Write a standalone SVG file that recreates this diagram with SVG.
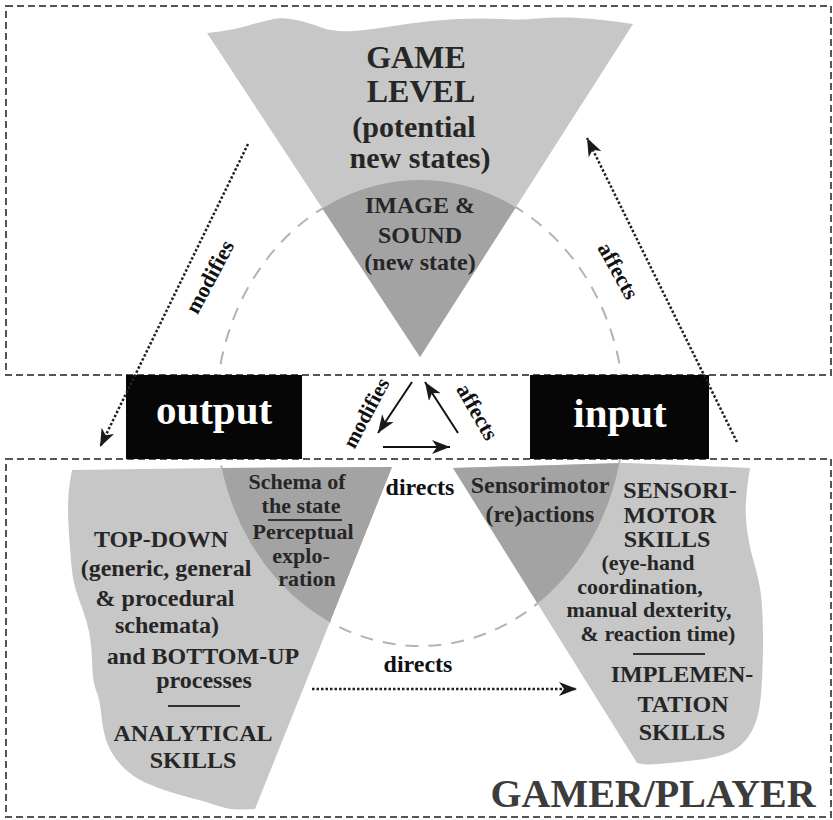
<svg xmlns="http://www.w3.org/2000/svg" width="833" height="820" viewBox="0 0 833 820">
<style>
.box{fill:none;stroke:#555;stroke-width:2;stroke-dasharray:7 4}
.light{fill:#c7c7c7}
.dark{fill:#a3a3a3}
.t{font-family:"Liberation Serif","Times New Roman",serif;font-weight:bold;fill:#262626;text-anchor:middle}
.w{font-family:"Liberation Serif","Times New Roman",serif;font-weight:bold;fill:#fff;text-anchor:middle;font-size:41px}
.s24{font-size:24px}
.s22{font-size:22px}
.lbl{font-size:22px;fill:#111}
.dot{fill:none;stroke:#222;stroke-width:2.5;stroke-dasharray:2.5 2}
.sol{fill:none;stroke:#111;stroke-width:2}
.rule{stroke:#333;stroke-width:2}
</style>
<defs>
<marker id="ah" markerUnits="userSpaceOnUse" markerWidth="20" markerHeight="14" refX="18" refY="7" orient="auto">
<path d="M0,0 L18,7 L0,14 L5,7 Z" fill="#1a1a1a"/>
</marker>
<clipPath id="ell"><ellipse cx="420" cy="413" rx="204" ry="233"/></clipPath>
<path id="tri" d="M207,33 L220,31.5 Q233,30 246.5,26 Q260,22 271.5,19.5 Q283,17 296.5,20 Q310,23 318.5,26.5 Q327,30 338.5,31 Q350,32 368.5,29.5 Q387,27 410,23.5 Q433,20 458,19 Q483,18 503,19 Q523,20 536.5,18.5 Q550,17 570,17.5 Q590,18 611.5,21 L633,24 L420,357 Z"/>
<path id="ll" d="M72,470 L218,468 L392,467 L255,809 L242.5,809.5 Q230,810 218.5,806 Q207,802 197,799.5 Q187,797 172,792.5 Q157,788 145,782.5 Q133,777 123,767 Q113,757 108,745 Q103,733 101.5,716.5 Q100,700 96.5,691.5 Q93,683 92.5,670 Q92,657 91,645 Q90,633 86.5,621.5 Q83,610 78,596.5 Q73,583 71.5,566.5 Q70,550 69,533.5 Q68,517 68,505 Q68,493 70,481.5 Z"/>
<path id="lr" d="M453,468 L623,463 Q663,464 750,468 L748.5,477.5 Q747,487 746,502 Q745,517 747.5,533.5 Q750,550 755,566.5 Q760,583 761.5,600 Q763,617 763,642 Q763,667 761.5,688.5 Q760,710 756,721.5 Q752,733 744.5,741.5 Q737,750 725,754 Q713,758 696.5,760 Q680,762 663.5,763.5 Q647,765 642,764 L637,763 Z"/>
</defs>
<rect width="833" height="820" fill="#fff"/>
<g id="frames">
<rect class="box" x="6" y="6" width="825" height="369"/>
<rect class="box" x="6" y="459" width="825" height="358"/>
</g>
<ellipse id="cycle" cx="420" cy="413" rx="204" ry="233" fill="none" stroke="#b3b3b3" stroke-width="2" stroke-dasharray="13 10"/>
<g id="game-level">
<use href="#tri" class="light"/>
<use href="#tri" class="dark" clip-path="url(#ell)"/>
<text class="t" x="416" y="68" font-size="32">GAME</text>
<text class="t" x="421" y="102" font-size="32">LEVEL</text>
<text class="t" x="414" y="137" font-size="30">(potential</text>
<text class="t" x="420" y="168" font-size="30">new states)</text>
<text class="t s24" x="420" y="213">IMAGE &amp;</text>
<text class="t s24" x="420" y="243">SOUND</text>
<text class="t s24" x="420" y="270">(new state)</text>
</g>
<g id="analytical">
<use href="#ll" class="light"/>
<use href="#ll" class="dark" clip-path="url(#ell)"/>
<text class="t s22" x="297" y="489">Schema of</text>
<text class="t s22" x="301" y="513">the state</text>
<line class="rule" x1="268" y1="520" x2="342" y2="520"/>
<text class="t s22" x="303" y="539">Perceptual</text>
<text class="t s22" x="301" y="563">explo-</text>
<text class="t s22" x="307" y="586">ration</text>
<text class="t s24" x="161" y="547">TOP-DOWN</text>
<text class="t s24" x="166" y="576">(generic, general</text>
<text class="t s24" x="165" y="606">&amp; procedural</text>
<text class="t s24" x="167" y="633">schemata)</text>
<text class="t s24" x="203" y="664">and BOTTOM-UP</text>
<text class="t s24" x="204" y="688">processes</text>
<line class="rule" x1="168" y1="706" x2="240" y2="706"/>
<text class="t s24" x="193" y="741">ANALYTICAL</text>
<text class="t s24" x="193" y="768">SKILLS</text>
</g>
<g id="sensorimotor">
<use href="#lr" class="light"/>
<use href="#lr" class="dark" clip-path="url(#ell)"/>
<text class="t s24" x="540" y="493">Sensorimotor</text>
<text class="t s24" x="540" y="522">(re)actions</text>
<text class="t s24" x="680" y="498">SENSORI-</text>
<text class="t s24" x="670" y="523">MOTOR</text>
<text class="t s24" x="667" y="547">SKILLS</text>
<text class="t s22" x="648" y="570">(eye-hand</text>
<text class="t s22" x="640" y="594">coordination,</text>
<text class="t s22" x="649" y="617">manual dexterity,</text>
<text class="t s22" x="658" y="641">&amp; reaction time)</text>
<line class="rule" x1="633" y1="654" x2="705" y2="654"/>
<text class="t s24" x="682" y="682">IMPLEMEN-</text>
<text class="t s24" x="683" y="712">TATION</text>
<text class="t s24" x="682" y="740">SKILLS</text>
</g>
<g id="output">
<rect x="126" y="375" width="176" height="84" fill="#060606"/>
<text class="w" x="214" y="424">output</text>
</g>
<g id="input">
<rect x="530" y="375" width="179" height="84" fill="#060606"/>
<text class="w" x="620" y="427">input</text>
</g>
<g id="player">
<text class="t" x="653" y="807" font-size="40" style="fill:#3c3c3c">GAMER/PLAYER</text>
</g>
<g id="connectors">
<line class="dot" x1="248" y1="144" x2="100" y2="447" marker-end="url(#ah)"/>
<line class="dot" x1="737" y1="442" x2="587" y2="138" marker-end="url(#ah)"/>
<line class="dot" x1="312" y1="689" x2="577" y2="689" marker-end="url(#ah)"/>
<line class="sol" x1="412" y1="382" x2="378" y2="433" marker-end="url(#ah)"/>
<line class="sol" x1="383" y1="447" x2="450" y2="447" marker-end="url(#ah)"/>
<line class="sol" x1="458" y1="433" x2="425" y2="382" marker-end="url(#ah)"/>
<text class="t lbl" transform="translate(210,277) rotate(-62)" x="0" y="7">modifies</text>
<text class="t lbl" transform="translate(618,271) rotate(61)" x="0" y="7">affects</text>
<text class="t lbl" transform="translate(366,413) rotate(-62)" x="0" y="7" style="font-size:21px">modifies</text>
<text class="t lbl" transform="translate(477,412) rotate(60)" x="0" y="7">affects</text>
<text class="t s24" x="420" y="495" style="fill:#111">directs</text>
<text class="t s24" x="418" y="672" style="fill:#111">directs</text>
</g>
</svg>
